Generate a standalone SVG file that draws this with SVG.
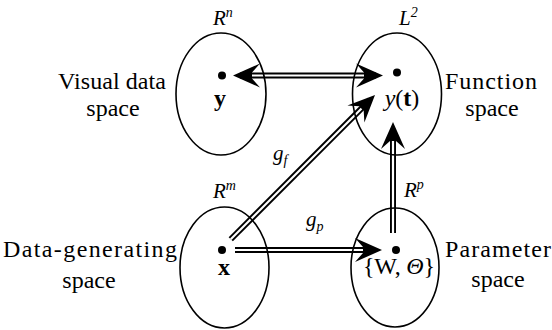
<svg xmlns="http://www.w3.org/2000/svg" xmlns:xlink="http://www.w3.org/1999/xlink" width="552" height="330" viewBox="0 0 552 330">
<style>
.el{fill:none;stroke:#000;stroke-width:1.6}
.dot{fill:#000}
text{font-family:"Liberation Serif","Times New Roman",serif;fill:#000}
.t{font-size:24px}
.m{font-size:21px}
.it{font-style:italic}
.b{font-weight:bold}
.o{stroke:#000;stroke-width:6;fill:none}
.i{stroke:#fff;stroke-width:2.2;fill:none}
</style>
<defs>
<path id="ah" d="M0,0 L-27,-12 L-19,-3 L-19,3 L-27,12 Z" fill="#000"/>
</defs>
<rect width="552" height="330" fill="#fff"/>
<g id="connectors">
<g id="c-top">
<line x1="240" y1="75.5" x2="376" y2="75.5" class="o"/>
<line x1="252" y1="75.5" x2="364" y2="75.5" class="i"/>
<use xlink:href="#ah" transform="translate(383,75.5)"/>
<use xlink:href="#ah" transform="translate(233,75.5) rotate(180)"/>
</g>
<g id="c-bottom">
<line x1="235" y1="250" x2="375" y2="250" class="o"/>
<line x1="235" y1="250" x2="363" y2="250" class="i"/>
<use xlink:href="#ah" transform="translate(382,250)"/>
</g>
<g id="c-diag" transform="translate(375,95) rotate(-45)">
<line x1="-204" y1="0" x2="-7" y2="0" class="o"/>
<line x1="-204" y1="0" x2="-19" y2="0" class="i"/>
<use xlink:href="#ah"/>
</g>
<g id="c-vert" transform="translate(393,122) rotate(-90)">
<line x1="-111" y1="0" x2="-7" y2="0" class="o"/>
<line x1="-111" y1="0" x2="-19" y2="0" class="i"/>
<use xlink:href="#ah"/>
</g>
<text class="m it" x="273" y="160">g<tspan font-size="14" dy="5">f</tspan></text>
<text class="m it" x="306" y="226">g<tspan font-size="14" dy="5">p</tspan></text>
</g>
<g id="visual">
<ellipse class="el" cx="221" cy="94" rx="45" ry="61"/>
<circle class="dot" cx="222" cy="75.5" r="4"/>
<text class="t b" x="220" y="106" text-anchor="middle">y</text>
<text class="m it" x="213" y="25">R<tspan font-size="14" dy="-8">n</tspan></text>
<text class="t" x="112" y="89" text-anchor="middle" textLength="108">Visual data</text>
<text class="t" x="113" y="116" text-anchor="middle">space</text>
</g>
<g id="function">
<ellipse class="el" cx="397" cy="94" rx="44.5" ry="61"/>
<circle class="dot" cx="397" cy="72.5" r="4"/>
<text class="t" x="402" y="106" text-anchor="middle"><tspan class="it">y</tspan>(<tspan class="b">t</tspan>)</text>
<text class="m it" x="399" y="25">L<tspan font-size="14" dy="-8">2</tspan></text>
<text class="t" x="491" y="89" text-anchor="middle" textLength="92">Function</text>
<text class="t" x="492" y="116" text-anchor="middle">space</text>
</g>
<g id="datagen">
<ellipse class="el" cx="224.5" cy="267.5" rx="44.5" ry="60.5"/>
<circle class="dot" cx="222" cy="250" r="4"/>
<text class="t b" x="224" y="275" text-anchor="middle">x</text>
<text class="m it" x="213" y="198">R<tspan font-size="14" dy="-8">m</tspan></text>
<text class="t" x="90" y="257" text-anchor="middle" textLength="174">Data-generating</text>
<text class="t" x="89" y="288" text-anchor="middle">space</text>
</g>
<g id="param">
<ellipse class="el" cx="395" cy="267.5" rx="44" ry="59.5"/>
<circle class="dot" cx="396" cy="250" r="4"/>
<text class="t" x="399" y="274" text-anchor="middle" textLength="72" font-size="22">{W, <tspan class="it">Θ</tspan>}</text>
<text class="m it" x="404" y="197">R<tspan font-size="14" dy="-8">p</tspan></text>
<text class="t" x="498" y="257" text-anchor="middle" textLength="106">Parameter</text>
<text class="t" x="498" y="287" text-anchor="middle">space</text>
</g>
</svg>
